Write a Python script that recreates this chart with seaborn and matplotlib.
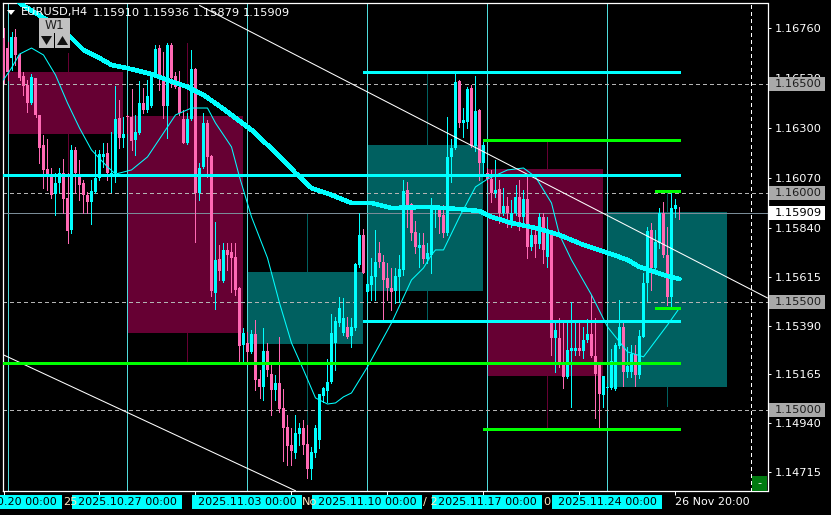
#!/usr/bin/env python3
import numpy as np
import matplotlib
matplotlib.use('Agg')
import matplotlib.pyplot as plt
from matplotlib.patches import Rectangle, Polygon
from matplotlib.transforms import blended_transform_factory
import seaborn as sns

W, H = 831, 515

# Candles: values are points (0.00001) from the 1.16000 level
BASE_PRICE = 1.16
directions = ("PPCPPPPCPP" "PPPCCPPCPP" "PPCCCCPCCP" "CPPCCPCCCP" "PCPPPPCCPC"
              "CPPCPCPPPP" "CPCPPCPPCP" "PPPCCPPCCC" "CCCCCCPCCC" "PCCCPPPPCC"
              "CPPPCPCCCP" "PCCCPCCPCP" "CPPCPCPCCP" "CPCPCPCPCP" "PCCCPCCPPP"
              "CCCCCPCCPC" "CCPCCPPCCP")
highs = [758, 696, 742, 753, 643, 558, 520, 548, 531, 359,
         267, 247, 114, 90, 114, 155, 90, 221, 213, 152,
         60, 6, 60, 198, 198, 229, 229, 282, 492, 428,
         351, 359, 477, 359, 515, 482, 520, 548, 681, 681,
         650, 689, 692, 558, 563, 382, 367, 658, 574, 137,
         367, 336, 175, -132, -239, -232, -232, -229, -232, -431,
         -620, -638, -632, -584, -815, -620, -692, -792, -838, -661,
         -902, -1022, -1083, -1022, -1060, -1045, -1068, -1167, -1068, -923,
         -891, -764, -558, -569, -480, -485, -572, -577, -324, -91,
         -166, -354, -301, -170, -224, -285, -324, -347, -347, -285,
         60, 52, -48, -127, -186, -186, -232, -25, -55, -55,
         -55, 348, 247, 554, 520, 390, 486, 497, 538, 385,
         236, 114, 106, 152, 60, 21, -17, -32, 37, 60,
         14, 75, -155, -155, -94, -94, -109, -170, -600, -577,
         -600, -600, -500, -600, -600, -615, -581, -469, -577, -792,
         -842, -876, -719, -692, -492, -600, -707, -700, -700, -630,
         -370, -155, -140, -170, -71, -40, -155, 6, -28, -64]
body_tops = [712, 666, 719, 719, 635, 538, 497, 532, 528, 359,
             221, 110, 83, 44, 90, 90, -25, 198, 198, 75,
             44, -9, 9, 67, 179, 179, 183, 94, 339, 344,
             272, 354, 351, 282, 413, 413, 446, 543, 661, 666,
             528, 681, 681, 538, 486, 339, 339, 571, 571, 117,
             321, 321, 170, -308, -304, -262, -262, -270, -293, -439,
             -644, -692, -649, -649, -856, -727, -727, -833, -876, -876,
             -991, -1077, -1160, -1106, -1081, -1080, -1155, -1192, -1080, -927,
             -899, -868, -646, -589, -528, -574, -617, -617, -327, -193,
             -193, -419, -380, -319, -278, -316, -393, -439, -380, -350,
             9, 14, -51, -181, -239, -239, -275, -60, -63, -75,
             -101, 167, 206, 509, 515, 336, 479, 482, 377, 382,
             221, 90, 64, 14, 17, -58, -58, -91, -17, -17,
             -29, -29, -193, -193, -109, -109, -186, -186, -630, -669,
             -784, -723, -715, -715, -715, -677, -650, -650, -750, -792,
             -842, -891, -773, -699, -615, -615, -795, -741, -741, -658,
             -416, -175, -170, -224, -91, -91, -285, -71, -55, -90]
body_bottoms = [520, 558, 620, 635, 528, 492, 413, 413, 359, 209,
                106, 87, -9, -6, 44, -28, -173, -170, 90, 37,
                -9, -40, -40, 6, 67, 167, 90, 87, 90, 255,
                255, 348, 239, 244, 278, 382, 382, 402, 551, 528,
                400, 400, 528, 486, 367, 232, 229, 339, 2, 2,
                121, 167, -449, -459, -359, -405, -285, -301, -446, -703,
                -700, -730, -730, -861, -891, -891, -815, -907, -907, -996,
                -1080, -1164, -1187, -1198, -1109, -1160, -1270, -1270, -1198, -1137,
                -934, -911, -868, -692, -600, -646, -661, -658, -623, -331,
                -367, -454, -423, -385, -316, -400, -439, -454, -451, -388,
                -354, -55, -186, -247, -255, -304, -304, -285, -74, -109,
                -183, -183, 167, 206, 324, 321, 328, 218, 218, 140,
                140, 64, 2, 2, -94, -94, -94, -140, -94, -109,
                -109, -247, -247, -235, -235, -262, -293, -669, -669, -776,
                -845, -845, -726, -727, -727, -727, -677, -750, -833, -927,
                -930, -896, -895, -904, -703, -822, -822, -825, -838, -838,
                -661, -416, -347, -347, -232, -285, -477, -477, -74, -91]
lows = [505, 520, 566, 589, 520, 451, 374, 410, 351, 137,
        21, 14, -25, -101, 6, -94, -232, -186, -2, -32,
        -94, -94, -143, -2, 60, 121, 60, 6, 52, 206,
        213, 275, 198, 175, 272, 367, 374, 397, 543, 474,
        344, 252, 489, 482, 359, 229, 226, 336, -224, -32,
        114, 75, -474, -534, -400, -408, -354, -454, -469, -776,
        -776, -776, -738, -907, -942, -953, -843, -1022, -953, -1006,
        -1232, -1252, -1252, -1221, -1160, -1203, -1310, -1316, -1213, -1172,
        -960, -960, -876, -815, -611, -654, -669, -707, -630, -339,
        -370, -500, -492, -492, -339, -584, -492, -538, -508, -500,
        -377, -155, -216, -278, -339, -324, -324, -370, -155, -186,
        -204, -193, 49, 202, 305, 259, 298, 213, 195, 60,
        90, 52, -43, -17, -140, -101, -155, -155, -101, -170,
        -155, -301, -262, -293, -255, -324, -339, -746, -822, -799,
        -899, -853, -983, -746, -746, -761, -684, -753, -1034, -1083,
        -983, -907, -904, -907, -715, -888, -845, -845, -887, -853,
        -664, -497, -446, -362, -255, -293, -515, -523, -109, -121]

# Weekly candles behind the H4 ones
week_starts = [1, 31, 61, 91, 121, 151]
week_widths = [28.75, 28.75, 28.75, 28.75, 28.75, 29.85]
week_tops = [1.16557, 1.16354, 1.15637, 1.16221, 1.16110, 1.15913]
week_bottoms = [1.16271, 1.15356, 1.15305, 1.15549, 1.15158, 1.15108]
week_highs = [1.16644, 1.16690, 1.15908, 1.16552, 1.16235, 1.16005]
week_lows = [1.16090, 1.15223, 1.14689, 1.15416, 1.14919, 1.15020]
week_bull = [False, False, True, True, False, True]

# Moving averages, read at these candle numbers
slow_ma_idx = [4, 8, 13, 17, 20, 24, 27, 32, 37, 41, 46, 50, 54, 57, 62, 66, 69, 73,
               77, 82, 87, 92, 97, 106, 114, 119, 122, 127, 133, 139, 145, 152, 156,
               159, 165, 169]
slow_ma = [1.16874, 1.16828, 1.16773, 1.16713, 1.16658, 1.16621, 1.16589, 1.16570,
           1.16547, 1.16520, 1.16488, 1.16451, 1.16400, 1.16359, 1.16290, 1.16221,
           1.16170, 1.16092, 1.16023, 1.15991, 1.15954, 1.15954, 1.15931, 1.15936,
           1.15926, 1.15917, 1.15890, 1.15862, 1.15839, 1.15807, 1.15761, 1.15719,
           1.15692, 1.15660, 1.15623, 1.15604]
fast_ma_idx = [0, 2, 4, 7, 10, 13, 16, 19, 22, 26, 28, 32, 36, 40, 43, 47, 51, 53, 57,
               59, 62, 66, 69, 72, 75, 78, 81, 83, 85, 87, 91, 97, 102, 105, 107, 108,
               110, 114, 118, 121, 126, 130, 133, 137, 139, 142, 147, 151, 156, 160,
               166, 169]
fast_ma = [1.16520, 1.16575, 1.16639, 1.16667, 1.16635, 1.16543, 1.16414, 1.16299,
           1.16198, 1.16120, 1.16087, 1.16106, 1.16166, 1.16276, 1.16359, 1.16391,
           1.16391, 1.16322, 1.16212, 1.16074, 1.15890, 1.15701, 1.15494, 1.15310,
           1.15186, 1.15057, 1.15029, 1.15034, 1.15062, 1.15080, 1.15200, 1.15402,
           1.15600, 1.15655, 1.15715, 1.15738, 1.15738, 1.15890, 1.16028, 1.16064,
           1.16106, 1.16115, 1.16074, 1.15954, 1.15807, 1.15692, 1.15531, 1.15384,
           1.15269, 1.15246, 1.15393, 1.15471]

# Trend lines and level lines
trend_a_idx = [49, 191]
trend_a = [1.16863, 1.15517]
trend_b_idx = [0, 73]
trend_b = [1.15255, 1.14630]
cyan_levels = [1.16081, 1.16559, 1.15410]
cyan_starts = [-0.25, 89.9, 89.9]
green_levels = [1.16246, 1.15216, 1.14913, 1.16009, 1.15472]
green_starts = [119.9, -0.25, 119.9, 163, 163]
level_end = 169.25
round_levels = [1.165, 1.16, 1.155, 1.15]
round_labels = ['1.16500', '1.16000', '1.15500', '1.15000']
bid = 1.15909
bid_label = '1.15909'

price_ticks = [1.16760, 1.16530, 1.16300, 1.16070, 1.15840, 1.15615, 1.15390, 1.15165,
               1.14940, 1.14715]
time_ticks = [0, 24, 48, 72, 96, 120, 144, 168]
week_labels = ['2025.10.20 00:00', '2025.10.27 00:00', '2025.11.03 00:00',
               '2025.11.10 00:00', '2025.11.17 00:00', '2025.11.24 00:00']
header = ['EURUSD,H4', '1.15910', '1.15936', '1.15879', '1.15909']

FONT = 8.2
DATE_FONT = 8.0
CYAN = '#00ffff'
PINK = '#ff69b4'
GREEN = '#00ff00'


def px_rect(fig, x0, y0, x1, y1, color, zorder=2):
    """Rectangle given in image pixels, for the terminal chrome."""
    fig.add_artist(Rectangle((x0 / W, 1 - y1 / H), (x1 - x0) / W, (y1 - y0) / H,
                             transform=fig.transFigure, facecolor=color,
                             edgecolor='none', zorder=zorder))


def px_text(fig, x, y, s, color='white', ha='left', size=FONT, zorder=5):
    fig.text(x / W, 1 - y / H, s, color=color, ha=ha, va='center', size=size, zorder=zorder)


def px_triangle(fig, pts, color, zorder=5):
    xy = [(x / W, 1 - y / H) for x, y in pts]
    fig.add_artist(Polygon(xy, closed=True, transform=fig.transFigure, facecolor=color,
                           edgecolor='none', zorder=zorder))


def draw_weeks(ax):
    for i in range(len(week_starts)):
        color = '#006060' if week_bull[i] else '#660033'
        ax.bar(week_starts[i] + 0.125, week_tops[i] - week_bottoms[i], week_widths[i],
               bottom=week_bottoms[i], align='edge', color=color, edgecolor='none',
               linewidth=0, antialiased=False, zorder=1)
        ax.vlines(week_starts[i] + 15, week_lows[i], week_highs[i], color=color,
                  linewidth=0.72, antialiased=False, zorder=1)


def draw_candles(ax):
    idx = np.arange(len(highs))
    hi = BASE_PRICE + np.array(highs) * 1e-5
    lo = BASE_PRICE + np.array(lows) * 1e-5
    top = BASE_PRICE + np.array(body_tops) * 1e-5
    bottom = BASE_PRICE + np.array(body_bottoms) * 1e-5
    colors = [CYAN if d == 'C' else PINK for d in directions]
    ax.vlines(idx, lo, hi, colors=colors, linewidth=0.72, antialiased=False, zorder=3)
    ax.bar(idx, top - bottom, 0.82, bottom=bottom, color=colors, edgecolor='none',
           linewidth=0, antialiased=False, zorder=4)


def main():
    sns.set_style('dark', {'axes.facecolor': 'black', 'figure.facecolor': 'black',
                           'axes.edgecolor': 'white', 'font.family': ['DejaVu Sans']})
    fig = plt.figure(figsize=(W / 100, H / 100), dpi=100)
    ax = fig.add_axes([2.5 / W, 1 - 491 / H, 765 / W, 488.5 / H])

    draw_weeks(ax)

    # weekly separators, round levels, bid
    ax.vlines(week_starts, 0, 1, transform=ax.get_xaxis_transform(),
              color='#4fdcdc', linewidth=0.72, antialiased=False, zorder=2)
    ax.hlines(round_levels, -0.25, 191, color='#b4b4b4', linewidth=0.72,
              linestyle=(0, (4, 3)), antialiased=False, zorder=2)
    ax.vlines(187, 0, 1, transform=ax.get_xaxis_transform(), color='white', linewidth=0.72,
              linestyle=(0, (4, 3)), antialiased=False, zorder=2)
    ax.hlines(bid, -0.25, 191, color='#7a8c98', linewidth=0.72, antialiased=False, zorder=2.5)

    draw_candles(ax)

    sns.lineplot(x=fast_ma_idx, y=fast_ma, color=CYAN, linewidth=0.75, estimator=None,
                 zorder=5, ax=ax)
    sns.lineplot(x=slow_ma_idx, y=slow_ma, color=CYAN, linewidth=2.5, estimator=None,
                 antialiased=False, zorder=5, ax=ax)
    ax.plot(trend_a_idx, trend_a, color='white', linewidth=0.75, zorder=5)
    ax.plot(trend_b_idx, trend_b, color='white', linewidth=0.75, zorder=5)

    ax.hlines(cyan_levels, cyan_starts, level_end, color=CYAN, linewidth=2.16,
              antialiased=False, zorder=6)
    ax.hlines(green_levels, green_starts, level_end, color=GREEN, linewidth=2.16,
              antialiased=False, zorder=6)

    ax.set_xlim(-0.25, 191)
    ax.set_ylim(1.146288, 1.168765)
    ax.grid(False)
    ax.set_xlabel('')
    ax.set_ylabel('')
    ax.set_xticks(time_ticks)
    ax.set_xticklabels([])
    ax.yaxis.tick_right()
    ax.set_yticks(price_ticks)
    ax.set_yticklabels([f'{p:.5f}' for p in price_ticks])
    ax.tick_params(axis='y', colors='white', length=2.4, width=0.72, pad=3, labelsize=FONT,
                   right=True, left=False)
    ax.tick_params(axis='x', colors='white', length=2.9, width=0.72, bottom=True)
    for spine in ax.spines.values():
        spine.set_color('white')
        spine.set_linewidth(0.9)

    # price tags on the right scale
    tag_tf = blended_transform_factory(fig.transFigure, ax.transData)
    tag_h = 0.00032
    for level, label in zip(round_levels, round_labels):
        fig.add_artist(Rectangle((769 / W, level - tag_h), 56 / W, 2 * tag_h, transform=tag_tf,
                                 facecolor='#a9a9a9', edgecolor='none', zorder=2))
        fig.text(775 / W, level, label, transform=tag_tf, color='#1c1c1c', va='center',
                 size=FONT, zorder=5)
    fig.add_artist(Rectangle((769 / W, bid - tag_h), 56 / W, 2 * tag_h, transform=tag_tf,
                             facecolor='white', edgecolor='none', zorder=2))
    fig.text(775 / W, bid, bid_label, transform=tag_tf, color='black', va='center',
             size=FONT, zorder=5)

    # date strip under the axis
    date_tf = blended_transform_factory(ax.transData, fig.transFigure)
    for s, label in zip(week_starts, week_labels):
        fig.add_artist(Rectangle((s - 13.75, 1 - 509 / H), 27.5, 14 / H, transform=date_tf,
                                 facecolor=CYAN, edgecolor='none', zorder=2, clip_on=False))
        fig.text(s, 1 - 502 / H, label, transform=date_tf, color='black', ha='center',
                 va='center', size=DATE_FONT, zorder=5)
    px_text(fig, 63, 502, '25', color='#ffe9c0')
    px_text(fig, 302, 502, 'No', color='#ffe9c0')
    px_text(fig, 423, 502, '/ 2', color='#ffe9c0')
    px_text(fig, 543, 502, '0', color='#ffe9c0')
    px_text(fig, 675, 502, '26 Nov 20:00', size=DATE_FONT)

    # header
    px_triangle(fig, [(7, 10), (15, 10), (11, 15)], 'white')
    for x, s in zip([21, 93, 143, 193, 243], header):
        px_text(fig, x, 12.5, s)

    # W1 button block
    px_rect(fig, 38.5, 18, 70, 33, '#c0c0c0', zorder=3)
    px_rect(fig, 39, 33, 54, 48, '#c0c0c0', zorder=3)
    px_rect(fig, 55, 33, 70, 48, '#c0c0c0', zorder=3)
    px_text(fig, 54, 25.5, 'W1', color='#202020', ha='center', size=FONT + 0.5)
    px_triangle(fig, [(41, 36), (52, 36), (46.5, 45)], '#101010')
    px_triangle(fig, [(57, 45), (68, 45), (62.5, 36)], '#101010')

    # small green button, bottom right
    px_rect(fig, 752, 476, 767, 491, '#007a10', zorder=3)
    px_text(fig, 759, 483, '-', ha='center')

    fig.savefig('out.png', dpi=100, facecolor='black')


if __name__ == '__main__':
    main()
